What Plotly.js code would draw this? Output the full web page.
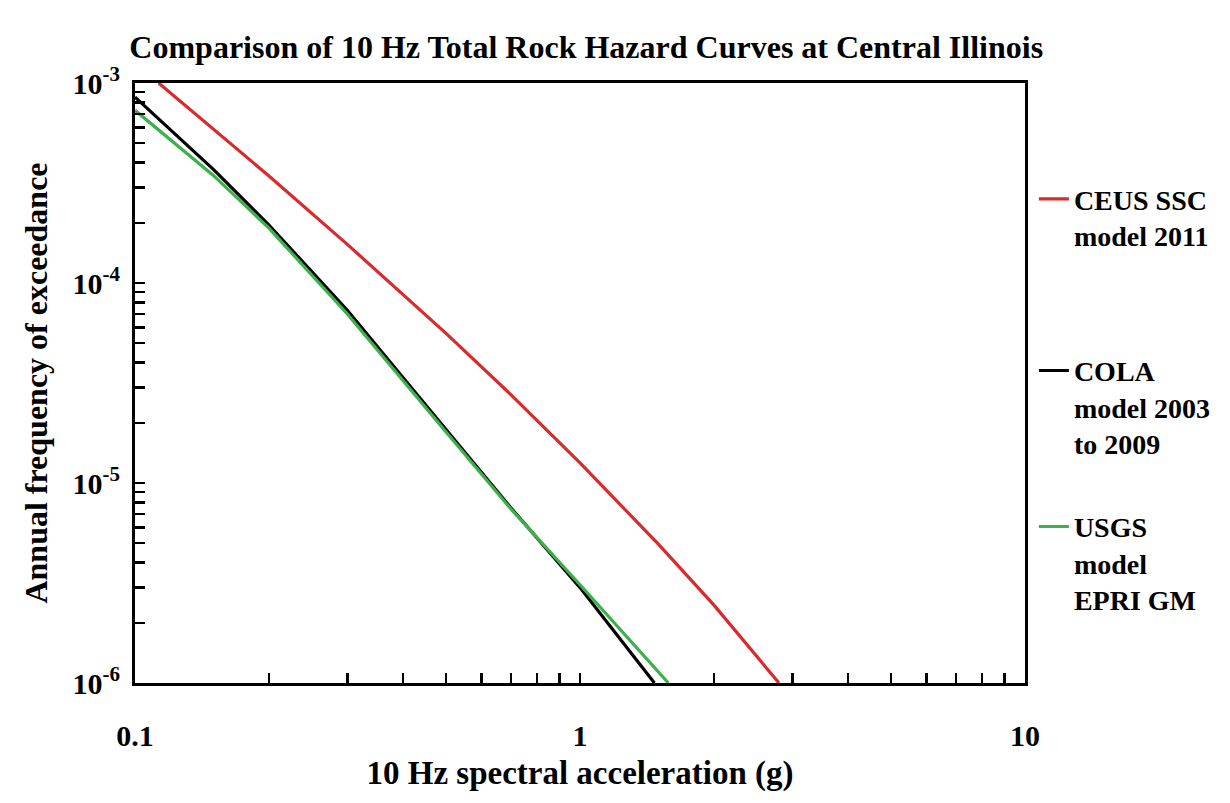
<!DOCTYPE html>
<html>
<head>
<meta charset="utf-8">
<script src="https://cdn.plot.ly/plotly-3.0.1.min.js"></script>
<style>html,body{margin:0;padding:0;background:#fff;}#chart{width:1230px;height:803px;}</style>
</head>
<body>
<div id="chart"></div>
<script>
// Series data (spectral acceleration in g, annual frequency of exceedance)
const ceusX = [0.113, 0.15, 0.2, 0.3, 0.5, 0.7, 1.0, 1.5, 2.0, 2.8];
const ceusY = [1.0e-3, 5.9e-4, 3.43e-4, 1.56e-4, 5.6e-5, 2.76e-5, 1.26e-5, 4.95e-6, 2.45e-6, 1.0e-6];

const colaX = [0.1, 0.15, 0.2, 0.3, 0.5, 0.7, 1.0, 1.47];
const colaY = [8.5e-4, 3.7e-4, 1.95e-4, 7.3e-5, 1.85e-5, 7.5e-6, 3.0e-6, 1.0e-6];

const usgsX = [0.1, 0.15, 0.2, 0.3, 0.5, 0.7, 1.0, 1.58];
const usgsY = [7.3e-4, 3.45e-4, 1.88e-4, 7.0e-5, 1.8e-5, 7.4e-6, 3.1e-6, 1.0e-6];

const seriesNames = ["CEUS SSC<br>model 2011", "COLA<br>model 2003<br>to 2009", "USGS<br>model<br>EPRI GM"];

// Tick definitions
const xTickVals = [0.1,0.2,0.3,0.4,0.5,0.6,0.7,0.8,0.9,1,2,3,4,5,6,7,8,9,10];
const xTickText = ["0.1","","","","","","","","","1","","","","","","","","","10"];
const yTickVals = [1e-6,2e-6,3e-6,4e-6,5e-6,6e-6,7e-6,8e-6,9e-6,
                   1e-5,2e-5,3e-5,4e-5,5e-5,6e-5,7e-5,8e-5,9e-5,
                   1e-4,2e-4,3e-4,4e-4,5e-4,6e-4,7e-4,8e-4,9e-4,1e-3];
const yTickText = ["10<sup>-6</sup>","","","","","","","","",
                   "10<sup>-5</sup>","","","","","","","","",
                   "10<sup>-4</sup>","","","","","","","","",
                   "10<sup>-3</sup>"];

const FONT = "Liberation Serif, Times New Roman, serif";

const traces = [
  {x: ceusX, y: ceusY, name: seriesNames[0], mode: "lines", line: {color: "#d92a2e", width: 3.2}, legend: "legend"},
  {x: colaX, y: colaY, name: seriesNames[1], mode: "lines", line: {color: "#000000", width: 3.2}, legend: "legend2"},
  {x: usgsX, y: usgsY, name: seriesNames[2], mode: "lines", line: {color: "#3cb04a", width: 3.2}, legend: "legend3"}
];

const legendBase = {
  xref: "paper", yref: "paper", x: 1.01, xanchor: "left", yanchor: "top",
  font: {family: FONT, size: 28, color: "#000", weight: "bold"},
  bgcolor: "rgba(0,0,0,0)", borderwidth: 0, valign: "top", itemwidth: 30
};

const layout = {
  width: 1230, height: 803,
  margin: {l: 135, r: 205, t: 83, b: 120},
  paper_bgcolor: "#fff", plot_bgcolor: "#fff",
  title: {
    text: "Comparison of 10 Hz Total Rock Hazard Curves at Central Illinois",
    font: {family: FONT, size: 32, color: "#000", weight: "bold"},
    x: 0.507, xref: "paper", xanchor: "center",
    y: 1 - 47/803, yref: "container", yanchor: "middle"
  },
  xaxis: {
    type: "log", range: [-1, 1],
    tickvals: xTickVals, ticktext: xTickText,
    ticks: "inside", ticklen: 10, tickwidth: 2.5, tickcolor: "#000",
    showline: true, linecolor: "#000", linewidth: 3, mirror: true,
    showgrid: false, zeroline: false,
    tickfont: {family: FONT, size: 30, color: "#000", weight: "bold"},
    ticklabelstandoff: 24,
    title: {text: "10 Hz spectral acceleration (g)", font: {family: FONT, size: 33, color: "#000", weight: "bold"}, standoff: 10}
  },
  yaxis: {
    type: "log", range: [-6, -3],
    tickvals: yTickVals, ticktext: yTickText,
    ticks: "inside", ticklen: 10, tickwidth: 2.5, tickcolor: "#000",
    showline: true, linecolor: "#000", linewidth: 3, mirror: true,
    showgrid: false, zeroline: false,
    tickfont: {family: FONT, size: 30, color: "#000", weight: "bold"},
    ticklabelstandoff: 6,
    title: {text: "Annual frequency of exceedance", font: {family: FONT, size: 32, color: "#000", weight: "bold"}, standoff: 16}
  },
  legend: Object.assign({}, legendBase, {y: 0.848}),
  legend2: Object.assign({}, legendBase, {y: 0.562}),
  legend3: Object.assign({}, legendBase, {y: 0.302}),
  showlegend: true
};

Plotly.newPlot("chart", traces, layout, {displayModeBar: false, staticPlot: true});
</script>
</body>
</html>
